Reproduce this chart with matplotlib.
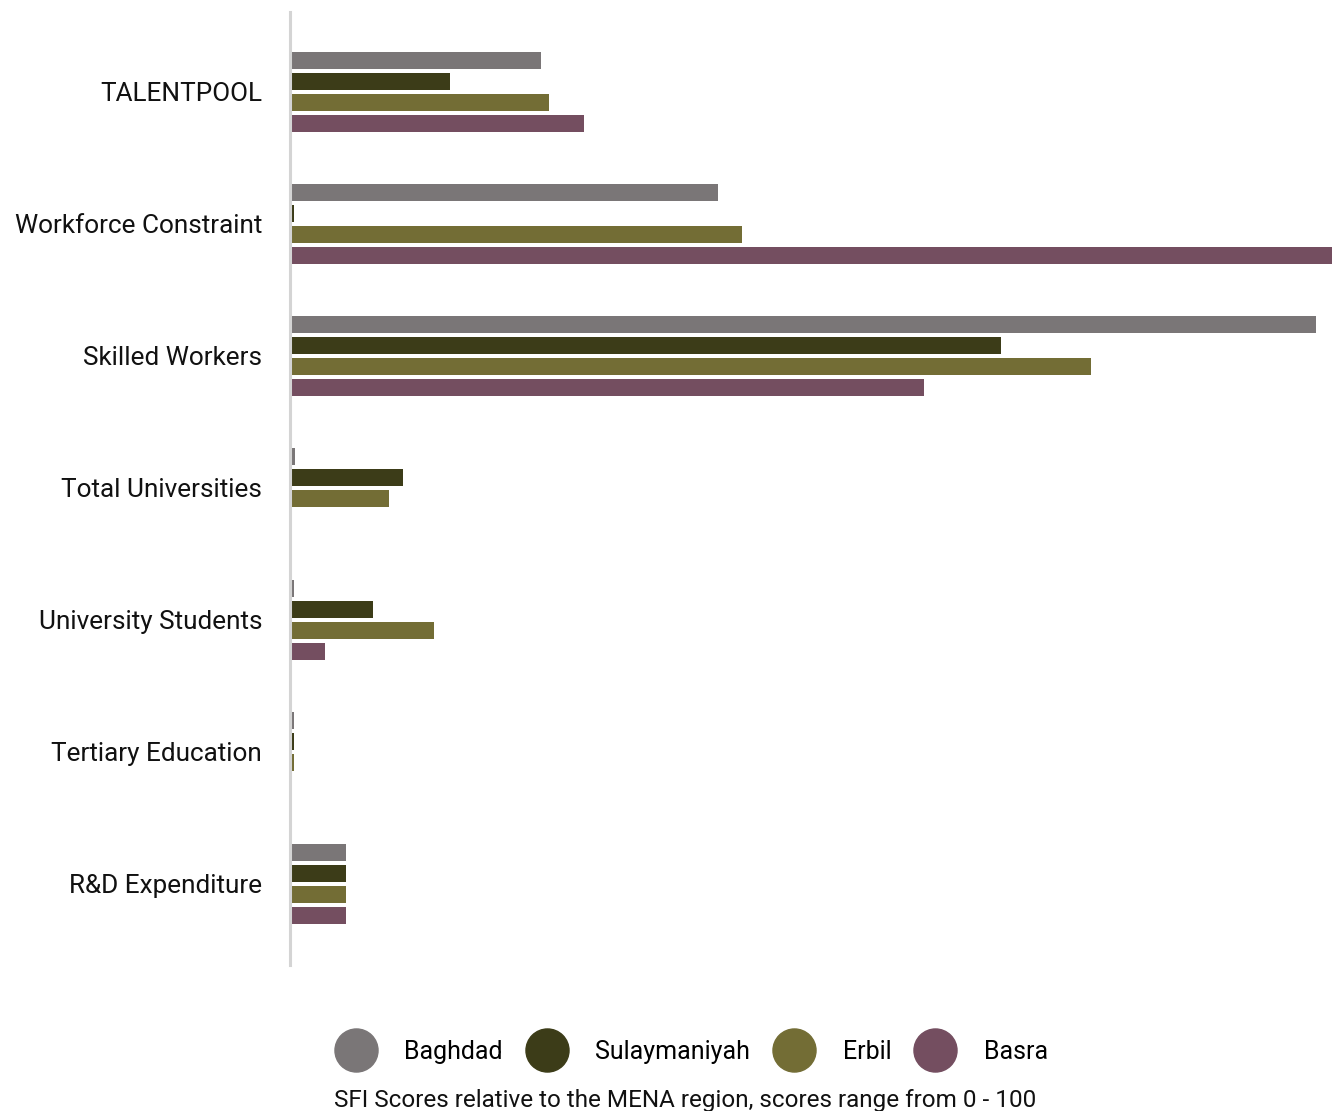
import numpy as np
import matplotlib
matplotlib.use('Agg')
import matplotlib.pyplot as plt
from matplotlib.lines import Line2D

plt.rcParams['font.family'] = ['Roboto', 'DejaVu Sans']

# -- indicators and city scores (0 - 100) --
categories = ['TALENTPOOL', 'Workforce Constraint', 'Skilled Workers',
              'Total Universities', 'University Students',
              'Tertiary Education', 'R&D Expenditure']
cities = ['Baghdad', 'Sulaymaniyah', 'Erbil', 'Basra']
baghdad = [24.1, 41.1, 98.5, 0.5, 0.4, 0.4, 5.4]
sulaymaniyah = [15.4, 0.4, 68.2, 10.8, 8.0, 0.4, 5.4]
erbil = [24.9, 43.4, 76.9, 9.5, 13.8, 0.4, 5.4]
basra = [28.2, 100.0, 60.8, 0.0, 3.4, 0.0, 5.4]
colors = ['#7a7677', '#3c3c18', '#736d35', '#744e60']

series = [baghdad, sulaymaniyah, erbil, basra]

fig = plt.figure(figsize=(13.37, 11.11), dpi=100)
ax = fig.add_axes([290 / 1337, 1 - 965 / 1111, 1042 / 1337, 953 / 1111])

y = np.arange(len(categories))
step = 0.159
h = 0.129
for i, (vals, c) in enumerate(zip(series, colors)):
    ax.barh(y + (i - 1.5) * step, vals, height=h, color=c, linewidth=0)

ax.set_xlim(0, 100)
ax.set_ylim(6.614, -0.606)
ax.set_yticks(y)
ax.set_yticklabels(categories, fontsize=18.8, color='#111111')
ax.tick_params(axis='y', length=0, pad=20)
ax.set_xticks([])
for s in ['top', 'right', 'bottom']:
    ax.spines[s].set_visible(False)
ax.spines['left'].set_color('#d4d4d4')
ax.spines['left'].set_linewidth(2.2)

# legend: filled circles for each city
handles = [Line2D([], [], marker='o', linestyle='none', markersize=31,
                  markerfacecolor=c, markeredgecolor=c) for c in colors]
fig.legend(handles, cities, loc='center', bbox_to_anchor=(693 / 1337, 1 - 1052 / 1111),
           ncol=4, frameon=False, fontsize=18, handlelength=1.4, handletextpad=1.25,
           columnspacing=1.05, borderaxespad=0)

fig.text(685 / 1337, 1 - 1101 / 1111, 'SFI Scores relative to the MENA region, scores range from 0 - 100',
         ha='center', va='center', fontsize=17.5, color='#111111')

plt.savefig('out.png', dpi=100)
